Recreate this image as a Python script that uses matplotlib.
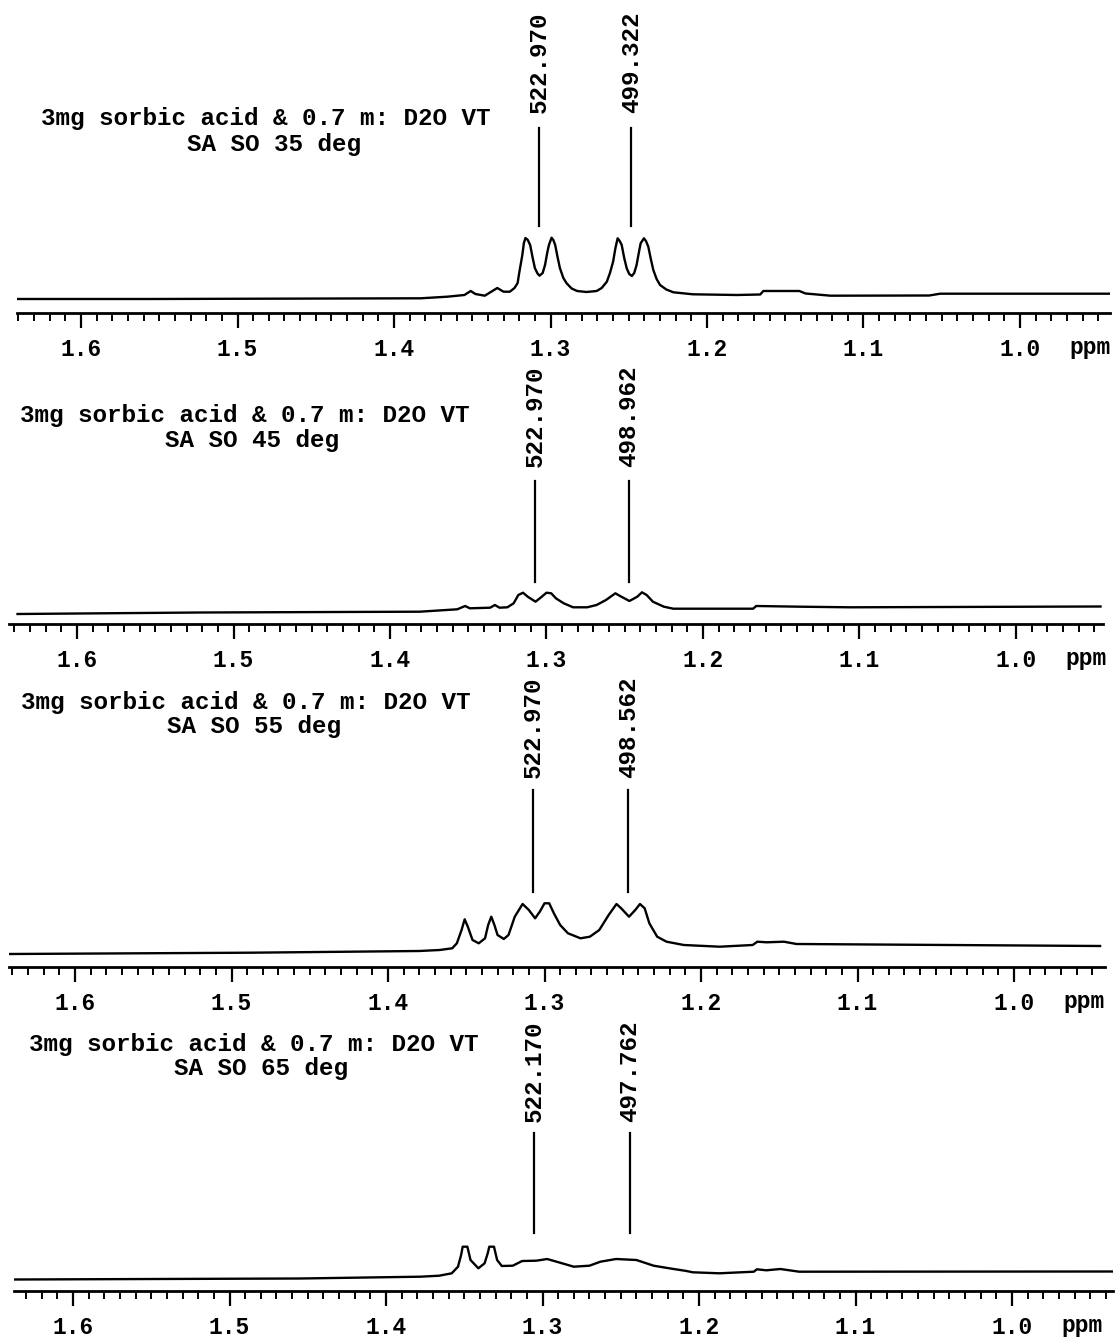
import numpy as np
import matplotlib.pyplot as plt
from matplotlib.ticker import MultipleLocator, FormatStrFormatter

plt.rcParams['font.family'] = ['Liberation Mono', 'DejaVu Sans']

W, H = 1115, 1339
spec_mhz = 400.0
px_per_ppm = 1565.0

title_line = '3mg sorbic acid & 0.7 m: D2O VT'
subtitles = ['SA SO 35 deg', 'SA SO 45 deg', 'SA SO 55 deg', 'SA SO 65 deg']
peak_hz = [[522.970, 499.322],
           [522.970, 498.962],
           [522.970, 498.562],
           [522.170, 497.762]]

# traced spectra: chemical shift (ppm) and height above baseline (arb. units)
ppm_35 = [1.641, 1.556, 1.460, 1.383, 1.366, 1.355, 1.351, 1.348, 1.342, 1.334,
          1.330, 1.326, 1.323, 1.321, 1.320, 1.318, 1.317, 1.316, 1.3145, 1.313,
          1.3115, 1.310, 1.3083, 1.307, 1.305, 1.3035, 1.302, 1.301, 1.2993, 1.2982,
          1.297, 1.2955, 1.294, 1.2918, 1.2897, 1.2865, 1.283, 1.277, 1.2705, 1.2673,
          1.264, 1.262, 1.260, 1.2585, 1.2571, 1.2558, 1.2545, 1.2529, 1.2513, 1.2497,
          1.248, 1.2465, 1.245, 1.2436, 1.2424, 1.2403, 1.239, 1.2375, 1.2359, 1.2343,
          1.2322, 1.230, 1.226, 1.2215, 1.209, 1.181, 1.166, 1.164, 1.141, 1.137,
          1.121, 1.058, 1.051, 0.942]
int_35 = [-1.0, -1.0, -0.6, -0.3, 1.3, 3.0, 7.0, 4.0, 2.3, 10.0,
          6.3, 6.3, 10.0, 15.0, 25.0, 43.0, 55.0, 60.0, 58.0, 53.0,
          41.0, 30.0, 24.5, 22.3, 25.0, 33.0, 46.0, 53.0, 60.3, 58.0,
          53.0, 41.0, 30.0, 20.0, 14.7, 9.5, 7.0, 6.0, 7.0, 10.0,
          16.3, 25.0, 36.3, 50.0, 59.7, 57.0, 53.0, 40.0, 29.7, 24.0,
          22.0, 25.0, 33.0, 45.0, 54.7, 59.7, 57.0, 51.3, 39.0, 28.0,
          19.0, 13.0, 8.5, 5.7, 3.7, 3.0, 3.5, 7.0, 7.0, 4.5,
          2.3, 2.5, 4.3, 4.3]

ppm_45 = [1.638, 1.521, 1.381, 1.357, 1.352, 1.349, 1.336, 1.333, 1.330, 1.325,
          1.321, 1.318, 1.315, 1.312, 1.307, 1.303, 1.300, 1.297, 1.294, 1.289,
          1.283, 1.274, 1.268, 1.262, 1.256, 1.253, 1.247, 1.242, 1.239, 1.236,
          1.232, 1.225, 1.219, 1.168, 1.166, 1.138, 1.106, 0.946]
int_45 = [-2.0, -0.5, 0.3, 2.7, 6.0, 3.7, 4.3, 7.0, 4.3, 4.7,
          8.7, 17.0, 19.3, 15.3, 10.3, 15.3, 19.3, 18.7, 13.7, 8.7,
          4.7, 4.7, 7.0, 12.0, 18.7, 16.0, 11.0, 15.3, 19.7, 17.0,
          10.3, 5.3, 3.3, 3.3, 6.0, 5.3, 4.7, 5.5]

ppm_55 = [1.642, 1.488, 1.380, 1.367, 1.359, 1.356, 1.353, 1.351, 1.349, 1.346,
          1.342, 1.338, 1.336, 1.334, 1.332, 1.330, 1.326, 1.323, 1.319, 1.314,
          1.310, 1.306, 1.303, 1.300, 1.297, 1.294, 1.290, 1.285, 1.277, 1.271,
          1.265, 1.259, 1.254, 1.251, 1.246, 1.242, 1.239, 1.236, 1.233, 1.228,
          1.222, 1.211, 1.188, 1.167, 1.164, 1.158, 1.147, 1.139, 0.945]
int_55 = [-2.0, -0.7, 1.0, 2.0, 3.7, 8.7, 22.0, 32.7, 25.3, 12.0,
          8.7, 13.7, 27.0, 35.3, 27.0, 17.0, 13.0, 17.0, 35.3, 48.0,
          42.0, 33.7, 40.3, 48.7, 48.7, 38.7, 27.0, 18.7, 13.7, 15.3,
          22.0, 37.0, 48.0, 43.7, 35.3, 42.0, 48.0, 43.7, 28.7, 15.3,
          10.3, 7.0, 5.3, 7.0, 10.3, 9.7, 10.3, 8.0, 6.0]

ppm_65 = [1.638, 1.455, 1.378, 1.366, 1.358, 1.354, 1.352, 1.351, 1.348, 1.346,
          1.341, 1.337, 1.335, 1.334, 1.331, 1.329, 1.326, 1.319, 1.313, 1.304,
          1.297, 1.291, 1.280, 1.270, 1.263, 1.253, 1.240, 1.229, 1.219, 1.208,
          1.204, 1.187, 1.165, 1.163, 1.157, 1.148, 1.136, 0.936]
int_65 = [-0.5, 0.5, 2.3, 3.3, 5.7, 12.3, 24.0, 32.3, 32.3, 19.0,
          10.7, 15.7, 25.7, 32.3, 32.3, 19.0, 13.0, 13.3, 18.0, 18.3,
          20.0, 17.3, 12.3, 13.3, 17.3, 20.0, 19.0, 13.3, 10.7, 8.0,
          6.7, 5.7, 7.3, 9.7, 8.7, 10.0, 7.3, 7.5]

spectra = [(ppm_35, int_35), (ppm_45, int_45), (ppm_55, int_55), (ppm_65, int_65)]

# page layout of the scanned panels, in pixels
# x of 1.6 ppm, left, right, axis line y, baseline y, top y
panels = [(81, 17, 1110, 313, 298, 0),
          (77, 9, 1103, 624, 612, 355),
          (75, 9, 1105, 967, 952, 668),
          (73, 14, 1113, 1291, 1279, 1002)]
# peak marker: line top y, line bottom y, label bottom y
markers = [(128, 226, 113), (481, 582, 467), (790, 892, 778), (1133, 1233, 1122)]
title_pos = [((266, 118), (274, 145)), ((245, 415), (252, 440)),
             ((246, 702), (254, 727)), ((254, 1045), (261, 1068))]

fig = plt.figure(figsize=(W / 100, H / 100), dpi=100)

for i in range(4):
    x0, left, right, axis_y, base_y, top_y = panels[i]
    ax = fig.add_axes([left / W, 1 - axis_y / H, (right - left) / W, (axis_y - top_y) / H])
    ax.patch.set_alpha(0)
    ax.set_xlim(1.6 + (x0 - left) / px_per_ppm, 1.6 - (right - x0) / px_per_ppm)
    ax.set_ylim(-(axis_y - base_y), base_y - top_y)

    ppm, inten = spectra[i]
    ax.plot(ppm, inten, color='black', lw=1.7)

    ltop, lbot, tbot = markers[i]
    for hz in peak_hz[i]:
        p = hz / spec_mhz
        ax.plot([p, p], [base_y - lbot, base_y - ltop], color='black', lw=1.6)
        ax.text(p, base_y - tbot, '%.3f' % hz, rotation=90, ha='center', va='bottom',
                fontsize=17.5, fontweight='bold')

    for s in ['top', 'left', 'right']:
        ax.spines[s].set_visible(False)
    ax.spines['bottom'].set_linewidth(2)
    ax.set_yticks([])
    ax.xaxis.set_major_locator(MultipleLocator(0.1))
    ax.xaxis.set_minor_locator(MultipleLocator(0.01))
    ax.xaxis.set_major_formatter(FormatStrFormatter('%.1f'))
    ax.tick_params(axis='x', which='major', direction='out', length=11, width=1.6,
                   pad=7, labelsize=16.5)
    ax.tick_params(axis='x', which='minor', direction='out', length=5.5, width=1.4)
    for lab in ax.get_xticklabels():
        lab.set_fontweight('bold')
    ax.annotate('ppm', xy=(0.955, 0), xycoords=('data', 'axes fraction'),
                xytext=(0, -25), textcoords='offset points', ha='center', va='center',
                fontsize=16.5, fontweight='bold')

    (tx1, ty1), (tx2, ty2) = title_pos[i]
    fig.text(tx1 / W, 1 - ty1 / H, title_line, ha='center', va='center',
             fontsize=17.5, fontweight='bold')
    fig.text(tx2 / W, 1 - ty2 / H, subtitles[i], ha='center', va='center',
             fontsize=17.5, fontweight='bold')

fig.savefig('out.png', dpi=100, facecolor='white')
